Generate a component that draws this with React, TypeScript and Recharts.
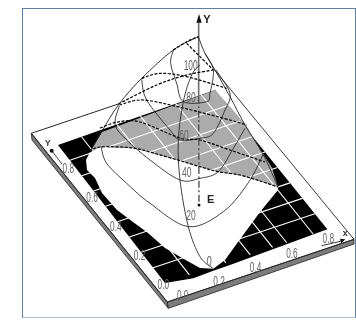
import React from "react";
import { ScatterChart, Scatter, XAxis, YAxis } from "recharts";

type P = { x: number; y: number };
type Raw = [number, number];

// Plane units: 3 units per pixel.
const plateTop: Raw[] = [[94, 400], [642, 208], [1062, 718], [502, 906]];
const plateLeftSide: Raw[] = [[94, 400], [96, 420], [505, 925], [502, 906]];
const plateRightSide: Raw[] = [[502, 906], [505, 925], [1062, 732], [1062, 718]];
const plateOutline: Raw[] = [[94, 400], [502, 906], [1062, 718], [642, 208]];
const plateBackEdge: Raw[] = [[94, 400], [355, 312]];

const gridXTicks = [0.12, 0.3, 0.42, 0.6, 0.73];
const gridXTicksNearOnly = [0.53];
const gridZTicks = [0.1, 0.2, 0.3, 0.4, 0.5, 0.6, 0.7, 0.8];
const xTickLabels = ["0.0", "0.2", "0.4", "0.6", "0.8"];
const zTickLabels = ["0.0", "0.2", "0.4", "0.6", "0.8"];
const eTickLabels: [string, number, number][] = [
  ["100", 572, 196], ["80", 573, 292], ["60", 552, 405], ["40", 560, 515], ["20", 573, 645], ["0", 628, 782],
];

const gridOrigin: Raw = [495, 849];
const gridXEnd: Raw = [982, 688];
const gridZEnd: Raw = [174, 435];
const gridFar: Raw = [645, 270];

const blackField: Raw[] = [[174, 435], [645, 270], [982, 688], [690, 795], [640, 812], [580, 835], [495, 849]];
const grayBand: Raw[] = [[306, 396], [645, 270], [699, 330], [741, 381], [786, 456], [816, 504], [834, 561], [780, 543], [720, 525], [654, 515], [600, 500], [540, 482], [470, 462], [399, 444], [300, 441], [270, 456]];
const whiteSheet: Raw[] = [[270, 456], [258, 480], [261, 510], [285, 534], [306, 579], [351, 630], [399, 666], [444, 699], [495, 744], [546, 774], [600, 804], [640, 806], [675, 780], [714, 726], [780, 636], [834, 570], [834, 561], [780, 543], [720, 525], [654, 515], [600, 500], [540, 482], [470, 462], [399, 444], [300, 441]];

const silhouetteLeft: Raw[] = [[595, 110], [520, 150], [425, 235], [355, 315], [305, 395], [270, 456]];
const silhouetteRight: Raw[] = [[595, 110], [615, 160], [645, 210], [690, 290], [735, 375], [790, 465], [834, 561]];
const rib1: Raw[] = [[303, 440], [320, 490], [380, 550], [450, 610], [565, 680], [670, 635], [745, 548], [790, 462]];
const rib2: Raw[] = [[358, 318], [345, 370], [370, 410], [450, 480], [540, 540], [600, 535], [655, 515], [700, 445], [735, 385]];
const rib3: Raw[] = [[425, 238], [440, 300], [510, 390], [540, 420], [600, 415], [640, 400], [675, 330], [690, 280], [648, 210]];
const rib4: Raw[] = [[520, 150], [512, 190], [530, 250], [550, 305], [620, 305], [630, 280], [640, 210], [615, 160]];
const rib5: Raw[] = [[640, 806], [600, 770], [565, 680], [540, 540], [535, 420], [550, 305], [575, 225], [600, 195]];

const dash1: Raw[] = [[270, 456], [300, 441], [399, 444], [470, 462], [540, 482], [600, 500], [654, 515], [720, 525], [780, 543], [834, 561]];
const dash2: Raw[] = [[300, 384], [354, 366], [420, 366], [540, 414], [600, 420], [690, 450], [795, 486]];
const dash3: Raw[] = [[358, 315], [429, 300], [549, 324], [690, 360], [740, 375]];
const dash4: Raw[] = [[355, 312], [470, 255], [560, 225], [640, 210]];
const dash5: Raw[] = [[425, 235], [480, 220], [560, 230], [680, 265]];
const dash6: Raw[] = [[520, 150], [560, 125], [595, 110]];
const dash7: Raw[] = [[560, 130], [600, 170], [640, 210]];

const axisSolid: Raw[] = [[596, 60], [596, 290]];
const axisDashed: Raw[] = [[596, 290], [597, 615]];
const arrowHead: Raw[] = [[597, 42], [589, 68], [605, 68]];
const xArrow: Raw[] = [[965, 737], [1030, 722]];
const zArrow: Raw[] = [[155, 452], [186, 492]];
const xArrowHead: Raw[] = [[1036, 718], [1020, 716], [1024, 730]];
const eDot: Raw[] = [[597, 615]];
const zDot: Raw[] = [[155, 452]];

const pts = (r: Raw[]): P[] => r.map(([x, y]) => ({ x, y }));
const mix = (a: Raw, b: Raw, t: number): Raw => [a[0] + (b[0] - a[0]) * t, a[1] + (b[1] - a[1]) * t];
const project = (x: number, z: number): Raw => {
  const u = x / 0.8;
  const v = z / 0.9;
  return mix(mix(gridOrigin, gridXEnd, u), mix(gridZEnd, gridFar, u), v);
};

const smoothPath = (p: P[]) => {
  let d = `M${p[0].x},${p[0].y}`;
  for (let i = 0; i < p.length - 1; i++) {
    const a = p[Math.max(i - 1, 0)];
    const b = p[i];
    const c = p[i + 1];
    const e = p[Math.min(i + 2, p.length - 1)];
    d += `C${b.x + (c.x - a.x) / 6},${b.y + (c.y - a.y) / 6} ${c.x - (e.x - b.x) / 6},${c.y - (e.y - b.y) / 6} ${c.x},${c.y}`;
  }
  return d;
};
const linearPath = (p: P[], closed: boolean) =>
  p.map((q, i) => `${i ? "L" : "M"}${q.x},${q.y}`).join("") + (closed ? "Z" : "");

const NoDot = () => <g />;

const Poly = (data: Raw[], fill: string, stroke = "none", w = 1, key = "") => (
  <Scatter
    key={key}
    data={pts(data)}
    isAnimationActive={false}
    shape={NoDot}
    line={(p: any) => <path d={linearPath(p.points, true)} fill={fill} stroke={stroke} strokeWidth={w} strokeLinejoin="round" />}
  />
);
const Curve = (data: Raw[], stroke: string, w: number, dash?: string, key = "") => (
  <Scatter
    key={key}
    data={pts(data)}
    isAnimationActive={false}
    shape={NoDot}
    line={(p: any) => <path d={smoothPath(p.points)} fill="none" stroke={stroke} strokeWidth={w} strokeDasharray={dash} />}
  />
);
const Label = (text: string, x: number, y: number, opt: { size?: number; bold?: boolean; fill?: string; narrow?: boolean } = {}) => (
  <Scatter
    key={`${text}-${x}-${y}`}
    data={[{ x, y }]}
    isAnimationActive={false}
    shape={(p: any) => (
      <text
        x={p.cx}
        y={p.cy}
        textAnchor="middle"
        dominantBaseline="central"
        fontFamily="'Liberation Sans',sans-serif"
        fontSize={opt.size ?? 14}
        fontWeight={opt.bold ? 700 : 400}
        fill={opt.fill ?? "#666"}
        textLength={opt.narrow === false ? undefined : (text.length === 1 ? 5 : text.length === 2 ? 9.5 : text.includes(".") ? 11.5 : 14)}
        lengthAdjust="spacingAndGlyphs"
      >
        {text}
      </text>
    )}
  />
);
const Dot = (data: Raw[], r: number) => (
  <Scatter
    data={pts(data)}
    isAnimationActive={false}
    shape={(p: any) => <circle cx={p.cx} cy={p.cy} r={r} fill="#111" />}
  />
);

export default function App() {
  const xLabel = (i: number) => mix([548, 886], [985, 715], i / 4);
  const zLabel = (i: number) => mix([490, 852], [205, 505], i / 4);
  return (
    <div style={{ position: "absolute", left: 0, top: 0, width: 356, height: 320, background: "#fff", filter: "blur(0.45px)" }}>
      <div style={{ position: "absolute", left: 22, top: 8, width: 334, height: 310, boxSizing: "border-box", borderLeft: "1px solid #5f7fa3", borderTop: "1px solid #5f7fa3", borderBottom: "1px solid #aebfd2", borderRight: "1px solid #5f7fa3" }} />
      <div style={{ position: "absolute", left: 0, top: 0 }}>
        <ScatterChart width={356} height={320} margin={{ top: 0, right: 0, bottom: 0, left: 0 }}>
          <XAxis type="number" dataKey="x" domain={[0, 1068]} hide allowDataOverflow />
          <YAxis type="number" dataKey="y" domain={[0, 960]} reversed hide allowDataOverflow />
          {Poly(plateTop, "#fff", "none", 0.9, "pt")}
          {Poly(plateLeftSide, "#7d7d7d", "#222", 0.8, "pl")}
          {Poly(plateRightSide, "#7d7d7d", "#222", 0.8, "pr")}
          {Curve(plateBackEdge, "#222", 1, undefined, "pb")}
          <Scatter
            data={pts(plateOutline)}
            isAnimationActive={false}
            shape={NoDot}
            line={(p: any) => <path d={linearPath(p.points, false)} fill="none" stroke="#222" strokeWidth={0.9} />}
          />
          {Poly(blackField, "#000", "none", 1, "gq")}
          {Poly(grayBand, "#ababab", "none", 1, "gb")}
          {gridXTicks.map((x) => Curve([project(x, 0), project(x, 0.9)], "#fff", 1.1, undefined, `gx${x}`))}
          {gridXTicksNearOnly.map((x) => Curve([project(x, 0), project(x, 0.4)], "#fff", 1.1, undefined, `gn${x}`))}
          {gridZTicks.map((z) => Curve([project(0, z), project(0.8, z)], "#fff", 1.1, undefined, `gz${z}`))}
          {Poly(whiteSheet, "#fff", "none", 1, "ws")}
          {Curve(axisSolid, "#6e6e6e", 1.6, undefined, "as")}
          {Curve(axisDashed, "#555", 1.4, "7 2.5 2 2.5", "ad")}
          {Curve(silhouetteLeft, "#222", 0.9, undefined, "sl")}
          {Curve(silhouetteRight, "#222", 0.9, undefined, "sr")}
          {Curve(rib1, "#222", 0.85, undefined, "r1")}
          {Curve(rib2, "#222", 0.85, undefined, "r2")}
          {Curve(rib3, "#222", 0.85, undefined, "r3")}
          {Curve(rib4, "#222", 0.85, undefined, "r4")}
          {Curve(rib5, "#222", 0.85, undefined, "r5")}
          {Curve(dash1, "#000", 1.2, "3 1.5", "d1")}
          {Curve(dash2, "#000", 1.2, "3 1.5", "d2")}
          {Curve(dash3, "#000", 1.2, "3 1.5", "d3")}
          {Curve(dash4, "#000", 1.2, "3 1.5", "d4")}
          {Curve(dash5, "#000", 1.2, "3 1.5", "d5")}
          {Curve(dash6, "#000", 1.2, "3 1.5", "d6")}
          {Curve(dash7, "#000", 1.2, "3 1.5", "d7")}
          {Poly(arrowHead, "#111", "none", 1, "ah")}
          {Curve(xArrow, "#333", 1, undefined, "xa")}
          {Curve(zArrow, "#333", 1, undefined, "za")}
          {Poly(xArrowHead, "#111", "none", 1, "xh")}
          {Dot(eDot, 1.5)}
          {Dot(zDot, 2)}
          {xTickLabels.map((t, i) => Label(t, xLabel(i)[0], xLabel(i)[1]))}
          {zTickLabels.map((t, i) => Label(t, zLabel(i)[0], zLabel(i)[1]))}
          {eTickLabels.map(([t, x, y]) => Label(t, x, y))}
          {Label("Y", 621, 57, { bold: true, size: 11, fill: "#222", narrow: false })}
          {Label("E", 632, 597, { bold: true, size: 11, fill: "#222", narrow: false })}
          {Label("x", 1036, 700, { bold: true, size: 9, fill: "#333", narrow: false })}
          {Label("Y", 143, 428, { bold: true, size: 9, fill: "#444", narrow: false })}
        </ScatterChart>
      </div>
    </div>
  );
}
